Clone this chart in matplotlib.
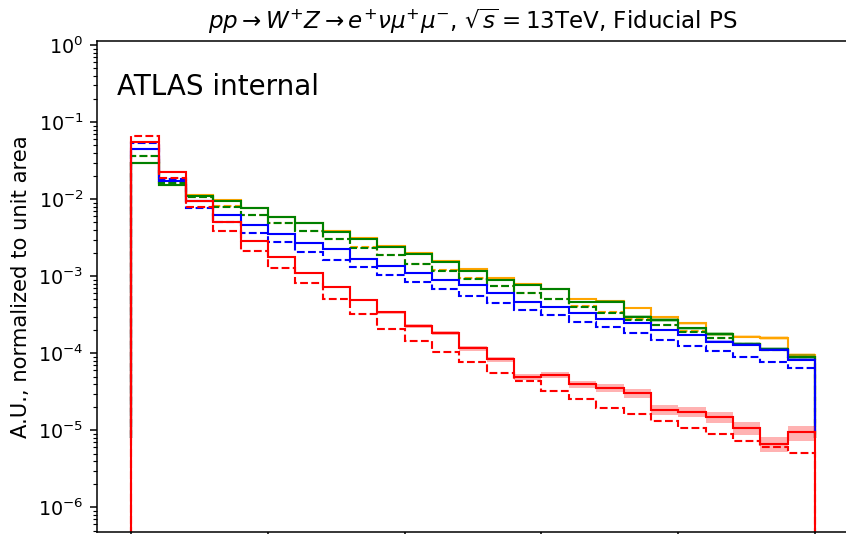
import matplotlib
matplotlib.use("Agg")
import matplotlib.pyplot as plt
import numpy as np

# 25 bins from 0 to 500
edges = np.linspace(0, 500, 26)

# normalized distributions (solid = nominal, dashed = alternative)
orange_solid = [0.0295, 0.0152, 0.0112, 0.0098, 0.0077, 0.0059, 0.0049, 0.0039, 0.00315, 0.00249,
                0.00202, 0.00156, 0.00126, 0.00096, 0.000794, 0.000685, 0.000503, 0.000482, 0.000385, 0.000294,
                0.000246, 0.000176, 0.000165, 0.000157, 0.0000953]
orange_dashed = [0.0368, 0.0161, 0.0107, 0.0081, 0.00628, 0.0049, 0.00389, 0.00305, 0.00238, 0.00189,
                 0.00146, 0.00119, 0.00094, 0.000755, 0.000612, 0.000508, 0.000408, 0.000340, 0.000276, 0.000236,
                 0.000193, 0.000159, 0.000133, 0.000112, 0.0000895]
green_solid = [0.0292, 0.0151, 0.0110, 0.00957, 0.00762, 0.00582, 0.00487, 0.00379, 0.00305, 0.00242,
               0.00195, 0.00152, 0.00118, 0.000895, 0.000764, 0.000678, 0.000464, 0.000469, 0.000299, 0.000271,
               0.000212, 0.000179, 0.000132, 0.000113, 0.0000906]
green_dashed = [0.0367, 0.0161, 0.0106, 0.0080, 0.00624, 0.00487, 0.00387, 0.00302, 0.00235, 0.00187,
                0.00144, 0.00118, 0.00093, 0.000749, 0.000607, 0.000503, 0.000403, 0.000337, 0.000271, 0.000233,
                0.000191, 0.000157, 0.000132, 0.000111, 0.0000889]
blue_solid = [0.0448, 0.0174, 0.00957, 0.00624, 0.00467, 0.00351, 0.00273, 0.00224, 0.00169, 0.00136,
              0.00111, 0.000895, 0.000771, 0.000602, 0.000469, 0.000400, 0.000334, 0.000282, 0.000246, 0.000201,
              0.000173, 0.000142, 0.000130, 0.000112, 0.0000820]
blue_dashed = [0.0531, 0.0181, 0.00776, 0.00511, 0.00368, 0.00276, 0.00205, 0.00163, 0.00133, 0.00104,
               0.000844, 0.000685, 0.000555, 0.000455, 0.000369, 0.000315, 0.000258, 0.000218, 0.000182, 0.000149,
               0.000125, 0.000107, 0.0000906, 0.0000767, 0.0000653]
red_solid = [0.0557, 0.0223, 0.00948, 0.00501, 0.00287, 0.00178, 0.00110, 0.000727, 0.000493, 0.000341,
             0.000227, 0.000185, 0.000116, 0.0000838, 0.0000499, 0.0000525, 0.0000395, 0.0000353, 0.0000303, 0.0000184,
             0.0000175, 0.0000148, 0.0000107, 0.0000067, 0.0000094]
red_dashed = [0.0660, 0.0190, 0.00792, 0.00390, 0.00215, 0.00128, 0.000818, 0.000508, 0.000320, 0.000209,
              0.000145, 0.000104, 0.0000780, 0.0000552, 0.0000439, 0.0000325, 0.0000254, 0.0000194, 0.0000164, 0.0000134,
              0.0000107, 0.0000089, 0.0000072, 0.0000061, 0.0000051]

# relative uncertainties on the nominal curves
orange_err = [0.005, 0.005, 0.006, 0.006, 0.007, 0.008, 0.009, 0.01, 0.012, 0.013,
              0.015, 0.017, 0.019, 0.022, 0.025, 0.028, 0.03, 0.033, 0.036, 0.04,
              0.045, 0.05, 0.055, 0.06, 0.065]
green_err = [0.005, 0.005, 0.006, 0.006, 0.007, 0.008, 0.009, 0.01, 0.012, 0.013,
             0.015, 0.017, 0.02, 0.023, 0.026, 0.03, 0.034, 0.038, 0.042, 0.046,
             0.05, 0.055, 0.06, 0.065, 0.07]
blue_err = [0.004, 0.004, 0.005, 0.005, 0.006, 0.007, 0.008, 0.009, 0.01, 0.011,
            0.012, 0.013, 0.015, 0.017, 0.019, 0.021, 0.023, 0.025, 0.027, 0.03,
            0.032, 0.035, 0.038, 0.04, 0.045]
red_err = [0.005, 0.008, 0.012, 0.016, 0.02, 0.025, 0.03, 0.035, 0.04, 0.045,
           0.05, 0.055, 0.065, 0.075, 0.09, 0.1, 0.11, 0.12, 0.13, 0.15,
           0.16, 0.17, 0.19, 0.21, 0.22]

y_ticks = [1e-6, 1e-5, 1e-4, 1e-3, 1e-2, 1e-1, 1e0]

fig = plt.figure(figsize=(846 / 138, 534 / 138), dpi=138)
ax = fig.add_axes([0.1147, 0.0037, 0.889, 0.920])

def draw(vals, err, color, ls, base):
    vals = np.array(vals)
    if err is not None:
        err = np.array(err)
        ax.stairs(vals * (1 + err), edges, baseline=vals * (1 - err), fill=True,
                  color=color, alpha=0.3, lw=0)
    ax.stairs(vals, edges, baseline=base, color=color, ls=ls, lw=1.1)

draw(orange_solid, orange_err, "orange", "-", 8e-6)
draw(orange_dashed, None, "orange", "--", 8e-6)
draw(green_solid, green_err, "green", "-", 8e-6)
draw(green_dashed, None, "green", "--", 8e-6)
draw(blue_solid, blue_err, "blue", "-", 8e-6)
draw(blue_dashed, None, "blue", "--", 8e-6)
draw(red_solid, red_err, "red", "-", 1e-9)
draw(red_dashed, None, "red", "--", 1e-9)

ax.set_yscale("log")
ax.set_xlim(-25, 525)
ax.set_ylim(10**-6.32, 10**0.058)
ax.set_yticks(y_ticks)
ax.set_xticks([0, 100, 200, 300, 400, 500])
# x tick labels fall below the visible canvas
ax.tick_params(axis="x", labelbottom=False)
ax.set_ylabel("A.U., normalized to unit area", fontsize=11)
ax.set_title(r"$pp \rightarrow W^{+}Z \rightarrow e^{+}\nu\mu^{+}\mu^{-}$, $\sqrt{s}=13$TeV, Fiducial PS",
             fontsize=12)
ax.text(0.027, 0.905, "ATLAS internal", transform=ax.transAxes, fontsize=14.5, va="center")

fig.savefig("out.png", dpi=138)
